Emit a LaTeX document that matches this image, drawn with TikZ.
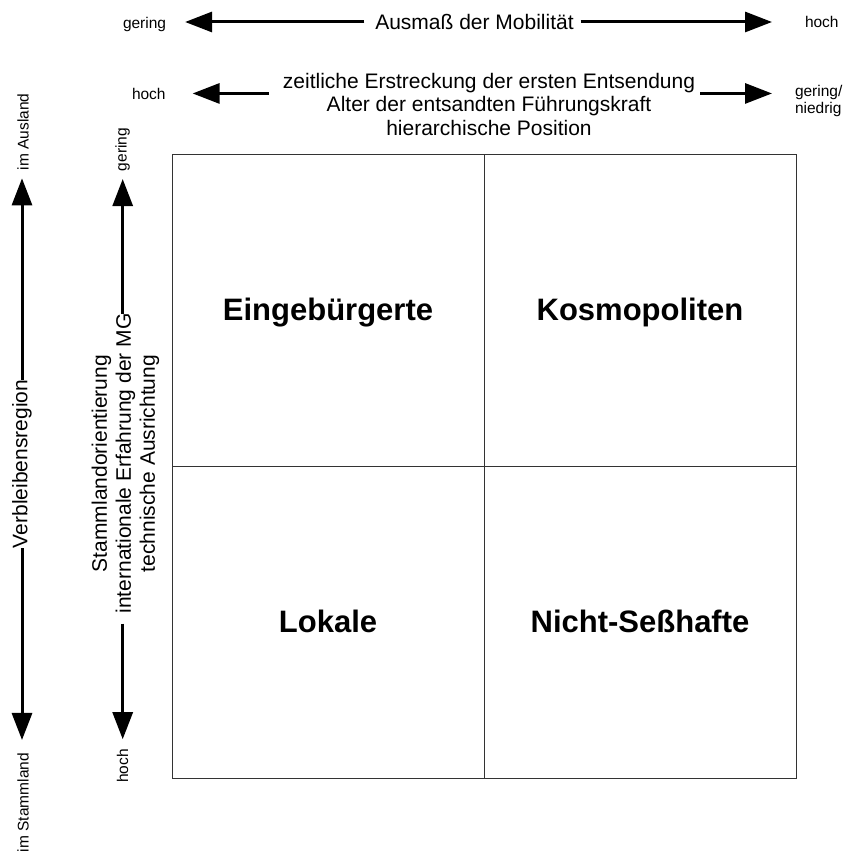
\documentclass[tikz,border=0pt]{standalone}
\usepackage{fontspec}
\setmainfont{Liberation Sans}
\usetikzlibrary{arrows.meta}

\tikzset{
  lbl/.style={inner sep=0pt, outer sep=0pt, font=\fontsize{15.5}{17}\selectfont},
  axistext/.style={inner sep=0pt, outer sep=0pt, align=center, font=\fontsize{21}{23.5}\selectfont},
  quad/.style={inner sep=0pt, outer sep=0pt, anchor=base, font=\fontsize{31}{35}\selectfont\bfseries},
  axarrow/.style={line width=3pt, -{Triangle[length=27pt,width=20pt]}},
  gridline/.style={line width=1pt, draw=black!80}
}

\begin{document}
\begin{tikzpicture}[x=1pt, y=-1pt]
  \useasboundingbox (0,0) rectangle (846,854);

  % --- top axis: extent of mobility ---
  \node[axistext, anchor=base] (mob) at (474.5,29.5) {Ausmaß der Mobilität};
  \node[lbl, anchor=base west] (gerT) at (123,28) {gering};
  \node[lbl, anchor=base west] (hochT) at (805,27.5) {hoch};
  \draw[axarrow, shorten <=11pt, shorten >=19pt] (mob.west) -- (gerT.east |- mob.west);
  \draw[axarrow, shorten <=7pt, shorten >=33pt] (mob.east) -- (hochT.west |- mob.east);

  % --- second axis: duration, age, position ---
  \node[axistext] (dur) at (489,104)
    {zeitliche Erstreckung der ersten Entsendung\\Alter der entsandten Führungskraft\\hierarchische Position};
  \node[lbl, anchor=base west] (hochL) at (132,99) {hoch};
  \node[lbl, anchor=west, align=left] (gn) at (795,100.5) {gering/\\niedrig};
  \draw[axarrow, shorten <=14pt, shorten >=27pt] (dur.west |- hochL.east) -- (hochL.east);
  \draw[axarrow, shorten <=5pt, shorten >=23pt] (dur.east |- hochL.east) -- (gn.west |- hochL.east);

  % --- left axis: region of stay ---
  \node[axistext, rotate=90] (verb) at (22,464) {Verbleibensregion};
  \node[lbl, rotate=90] (ausl) at (23,132) {im Ausland};
  \node[lbl, rotate=90] (stamm) at (23,802.5) {im Stammland};
  \draw[axarrow, shorten >=8pt] (verb.east) -- (verb.east |- ausl.west);
  \draw[axarrow, shorten >=13pt] (verb.west) -- (verb.west |- stamm.east);

  % --- second left axis: home-country orientation etc. ---
  \node[axistext, rotate=90, font=\fontsize{21}{24}\selectfont] (orient) at (125.4,463.5)
    {Stammlandorientierung\\internationale Erfahrung der MG\\technische Ausrichtung};
  \node[lbl, rotate=90] (ger2) at (122.7,149.5) {gering};
  \node[lbl, rotate=90] (hoch2) at (122.7,766) {hoch};
  \draw[axarrow, shorten >=8pt] (ger2.west |- orient.east) -- (ger2.west);
  \draw[axarrow, shorten <=10pt, shorten >=10pt] (hoch2.east |- orient.west) -- (hoch2.east);

  % --- four-field matrix ---
  \coordinate (nw) at (172,154);
  \coordinate (se) at (796,778);
  \coordinate (mid) at (484,466);
  \draw[gridline] (nw) rectangle (se);
  \draw[gridline] (mid |- nw) -- (mid |- se);
  \draw[gridline] (mid -| nw) -- (mid -| se);

  \node[quad] (q1) at (328,320) {Eingebürgerte};
  \node[quad] (q2) at (640,320) {Kosmopoliten};
  \node[quad] (q3) at (328,632) {Lokale};
  \node[quad] (q4) at (640,632) {Nicht-Seßhafte};
\end{tikzpicture}
\end{document}
